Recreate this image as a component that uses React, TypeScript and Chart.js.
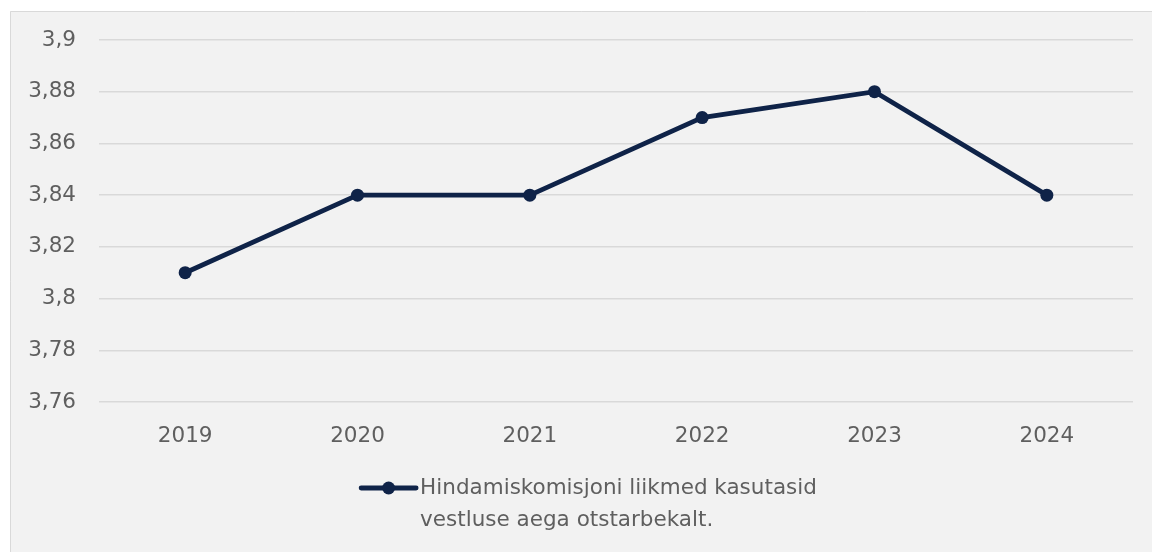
import React, { useEffect, useRef } from "react";
import { Chart, registerables } from "chart.js";

Chart.register(...registerables);

const years = ["2019", "2020", "2021", "2022", "2023", "2024"];
const values = [3.81, 3.84, 3.84, 3.87, 3.88, 3.84];
const seriesLabel = ["Hindamiskomisjoni liikmed kasutasid", "vestluse aega otstarbekalt."];
const yMin = 3.76;
const yMax = 3.9;
const yStep = 0.02;

const NAVY = "#0f2348";
const TEXT = "#5f5f5f";
const FONT = "'DejaVu Sans', sans-serif";
const FONT_SIZE = 21.5;

const fmt = (v: number) => String(Number(v.toFixed(2))).replace(".", ",");

export default function App() {
  const ref = useRef<HTMLCanvasElement | null>(null);

  useEffect(() => {
    document.body.style.margin = "0";
    const canvas = ref.current!;
    const bgPlugin = {
      id: "bg",
      beforeDraw(chart: any) {
        const ctx = chart.ctx;
        ctx.save();
        ctx.fillStyle = "#ffffff";
        ctx.fillRect(0, 0, chart.width, chart.height);
        ctx.fillStyle = "#f2f2f2";
        ctx.fillRect(10, 11, chart.width, chart.height);
        ctx.strokeStyle = "#d9d9d9";
        ctx.lineWidth = 1;
        ctx.beginPath();
        ctx.moveTo(10.5, chart.height);
        ctx.lineTo(10.5, 11.5);
        ctx.lineTo(chart.width, 11.5);
        ctx.stroke();
        ctx.restore();
      },
    };
    const legendPlugin = {
      id: "customLegend",
      afterDraw(chart: any) {
        const ctx = chart.ctx;
        ctx.save();
        ctx.font = `${FONT_SIZE}px ${FONT}`;
        const textW = Math.max(...seriesLabel.map((l) => ctx.measureText(l).width));
        const lineW = 55;
        const gap = 4;
        const total = lineW + gap + textW;
        const centerX = (chart.chartArea.left + chart.chartArea.right) / 2 - 27;
        const x0 = centerX - total / 2;
        const y0 = chart.chartArea.bottom + 86;
        ctx.strokeStyle = NAVY;
        ctx.lineWidth = 4.8;
        ctx.lineCap = "round";
        ctx.beginPath();
        ctx.moveTo(x0, y0);
        ctx.lineTo(x0 + lineW, y0);
        ctx.stroke();
        ctx.fillStyle = NAVY;
        ctx.beginPath();
        ctx.arc(x0 + lineW / 2, y0, 6.5, 0, Math.PI * 2);
        ctx.fill();
        ctx.fillStyle = TEXT;
        ctx.textBaseline = "middle";
        ctx.textAlign = "left";
        seriesLabel.forEach((l, i) => {
          ctx.fillText(l, x0 + lineW + gap, y0 + i * 32);
        });
        ctx.restore();
      },
    };

    const chart = new Chart(canvas, {
      type: "line",
      data: {
        labels: years,
        datasets: [
          {
            label: seriesLabel.join(" "),
            data: values,
            borderColor: NAVY,
            backgroundColor: NAVY,
            borderWidth: 4.8,
            pointRadius: 6.5,
            pointBackgroundColor: NAVY,
            pointBorderWidth: 0,
            tension: 0,
          },
        ],
      },
      options: {
        responsive: false,
        animation: false,
        devicePixelRatio: 1,
        layout: { padding: { top: 40, right: 19, bottom: 0, left: 0 } },
        plugins: {
          legend: { display: false },
          tooltip: { enabled: false },
        },
        scales: {
          x: {
            offset: true,
            grid: { display: false, drawTicks: false },
            border: { display: false },
            ticks: { color: TEXT, font: { family: FONT, size: FONT_SIZE }, padding: 22 },
            afterFit(axis: any) {
              axis.height = 150;
            },
          },
          y: {
            min: yMin,
            max: yMax,
            grid: { color: "#d9d9d9", lineWidth: 1.5, drawTicks: false },
            border: { display: false },
            ticks: {
              stepSize: yStep,
              color: TEXT,
              font: { family: FONT, size: FONT_SIZE },
              padding: 23,
              callback: (v: any) => fmt(Number(v)),
            },
            afterFit(axis: any) {
              axis.width = 99;
            },
          },
        },
      },
      plugins: [bgPlugin, legendPlugin],
    } as any);
    return () => chart.destroy();
  }, []);

  return (
    <div style={{ width: 1152, height: 552 }}>
      <canvas ref={ref} width={1152} height={552} style={{ display: "block" }} />
    </div>
  );
}
